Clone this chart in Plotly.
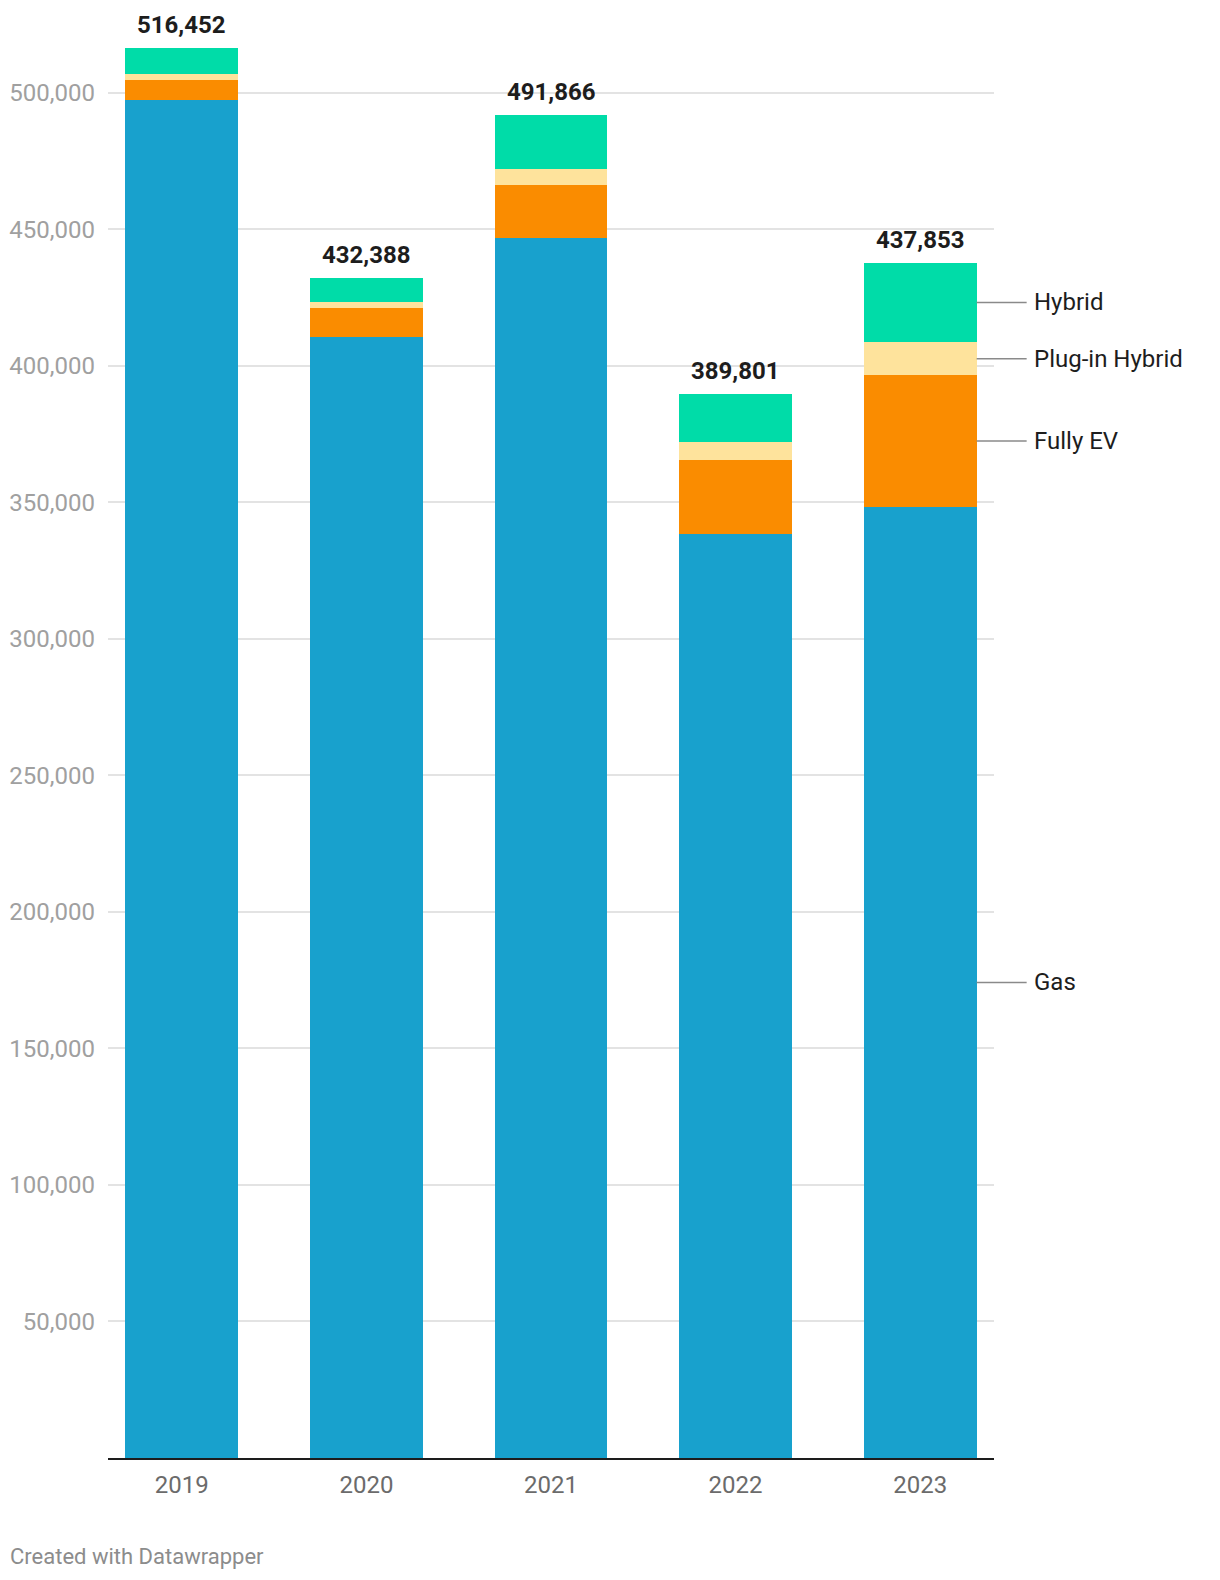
import plotly.graph_objects as go

years = ["2019", "2020", "2021", "2022", "2023"]
gas = [497400, 410500, 446900, 338350, 348350]
fully_ev = [7250, 10650, 19300, 27100, 48250]
plug_in = [2200, 2150, 5850, 6600, 12100]
totals = [516452, 432388, 491866, 389801, 437853]
hybrid = [t - g - e - p for t, g, e, p in zip(totals, gas, fully_ev, plug_in)]

series_names = ["Gas", "Fully EV", "Plug-in Hybrid", "Hybrid"]
series_values = [gas, fully_ev, plug_in, hybrid]
colors = ["#18a1cd", "#fa8c00", "#fee39c", "#00dca8"]

y_ticks = [50000, 100000, 150000, 200000, 250000, 300000, 350000, 400000, 450000, 500000]
y_ticktext = [f"{v:,}" for v in y_ticks]

FONT = "Roboto"
BAR_W = 0.612
X_RANGE = [-0.4, 4.4]
PLOT_W = 886


def to_paper(xv):
    return (xv - X_RANGE[0]) / (X_RANGE[1] - X_RANGE[0])


fig = go.Figure()
for name, vals, col in zip(series_names, series_values, colors):
    fig.add_trace(go.Bar(x=list(range(len(years))), y=vals, name=name, marker_color=col,
                         marker_line_width=0, width=BAR_W, showlegend=False, hoverinfo="skip"))

annotations = []
for i, t in enumerate(totals):
    annotations.append(dict(x=i, y=t, xref="x", yref="y", text=f"<b>{t:,}</b>", showarrow=False,
                            yanchor="bottom", yshift=7, font=dict(family=FONT, size=24, color="#1d1d1d")))

# direct labels for the last bar
shapes = []
last = len(years) - 1
base = 0
line_px = 50
for name, vals in zip(series_names, series_values):
    v = vals[last]
    mid = base + v / 2
    base += v
    x0 = to_paper(last + BAR_W / 2)
    x1 = x0 + line_px / PLOT_W
    shapes.append(dict(type="line", xref="paper", yref="y", x0=x0, x1=x1, y0=mid, y1=mid,
                       line=dict(color="#8a8a8a", width=1.5)))
    annotations.append(dict(x=x1, y=mid, xref="paper", yref="y", text=name, showarrow=False,
                            xanchor="left", xshift=5, font=dict(family=FONT, size=24, color="#1d1d1d")))

annotations.append(dict(x=-100 / PLOT_W, y=-(1556 - 1457.7) / 1447, xref="paper", yref="paper",
                        text="Created with Datawrapper", showarrow=False, xanchor="left", yanchor="middle",
                        font=dict(family=FONT, size=22, color="#8c8c8c")))

fig.update_layout(
    width=1220, height=1580,
    margin=dict(l=108, r=226, t=11, b=122, autoexpand=False),
    barmode="stack",
    plot_bgcolor="white", paper_bgcolor="white",
    font=dict(family=FONT),
    bargap=0,
    annotations=annotations,
    shapes=shapes,
    xaxis=dict(range=X_RANGE, tickmode="array", tickvals=list(range(len(years))), ticktext=years,
               showgrid=False, showline=True, linecolor="#1d1d1d", linewidth=2, ticks="",
               ticklabelstandoff=4,
               tickfont=dict(family=FONT, size=24, color="#6b6b6b"), zeroline=False, fixedrange=True),
    yaxis=dict(range=[0, 530000], tickmode="array", tickvals=y_ticks, ticktext=y_ticktext,
               showgrid=True, gridcolor="#e3e3e3", gridwidth=1.5, zeroline=False, showline=False,
               ticks="", ticklabelstandoff=12,
               tickfont=dict(family=FONT, size=24, color="#a0a0a0")),
)

fig.write_html("out.html", config={"displayModeBar": False})

with open("out.html", "r", encoding="utf-8") as f:
    html = f.read()
html = html.replace("<head>", "<head><style>html,body{margin:0;padding:0;overflow:hidden;}</style>", 1)
with open("out.html", "w", encoding="utf-8") as f:
    f.write(html)
